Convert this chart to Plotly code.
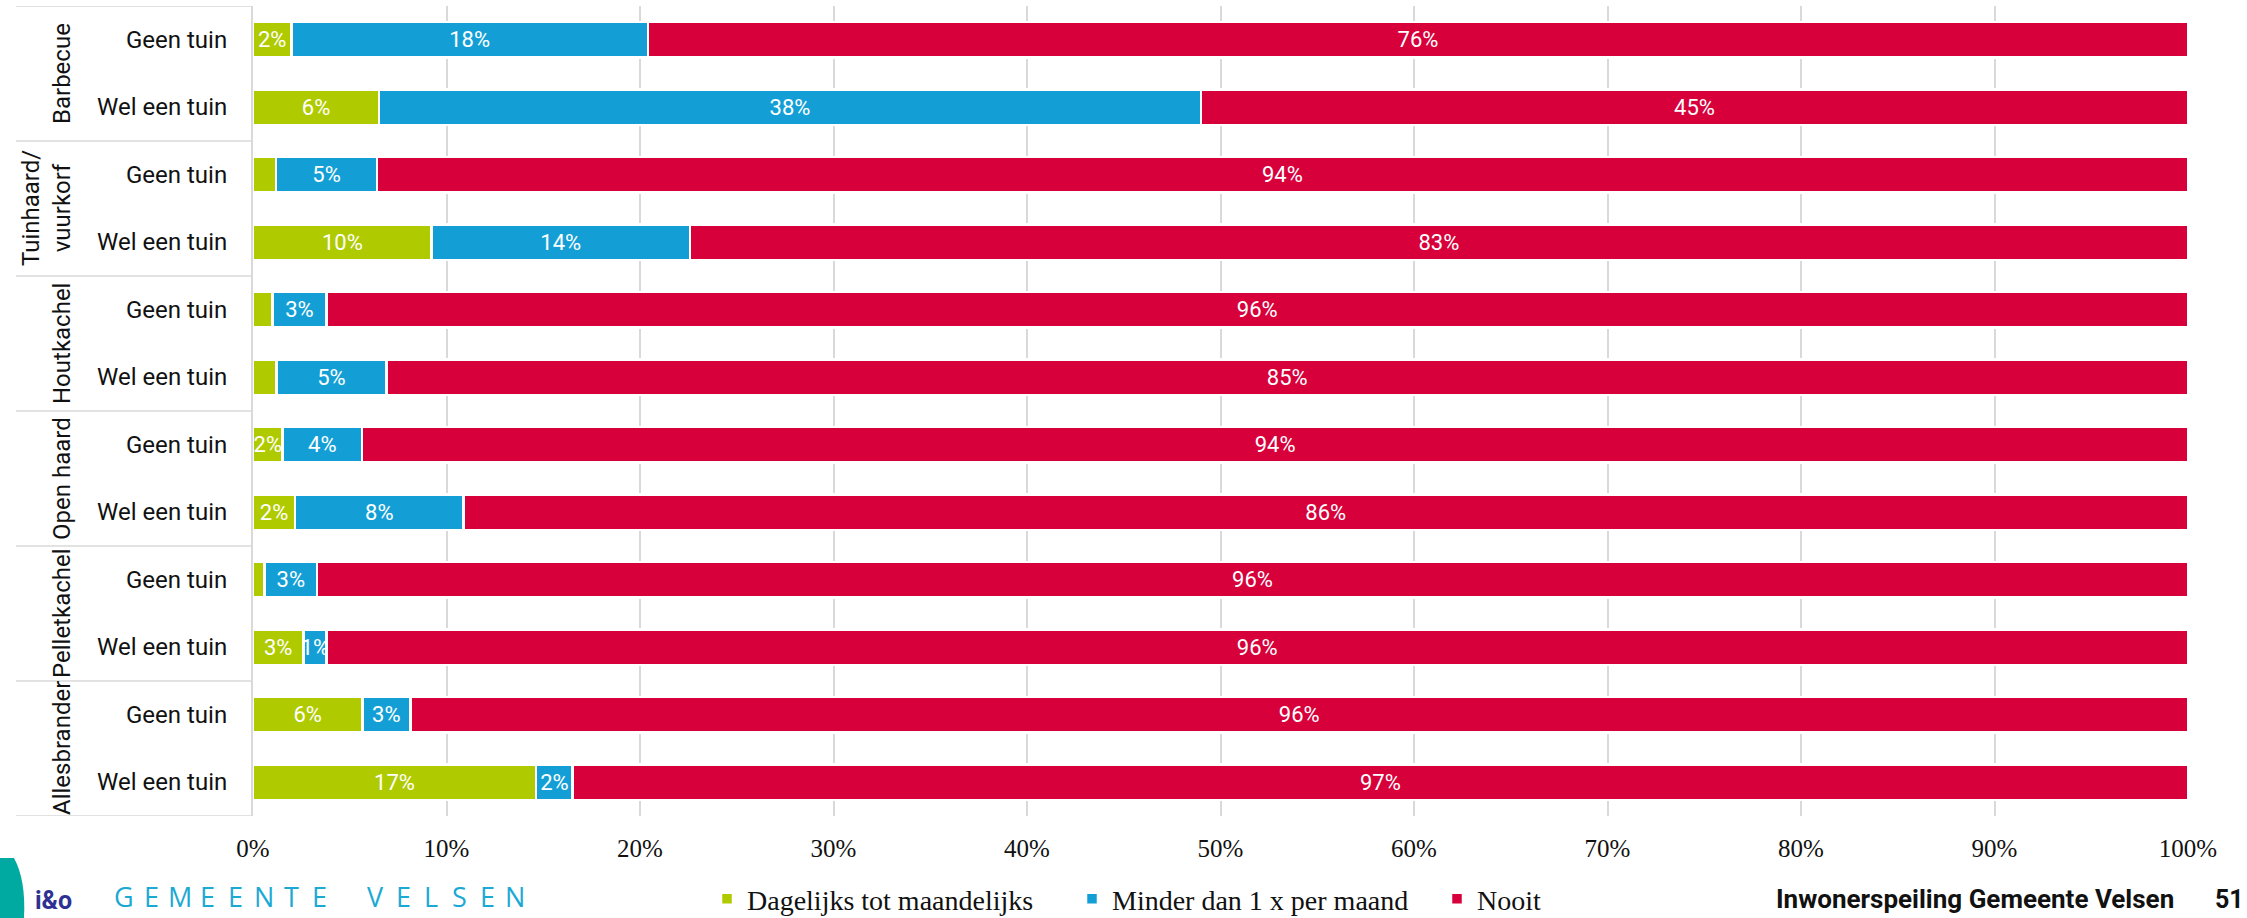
import plotly.graph_objects as go

# ---- data -------------------------------------------------------------
groups = ["Barbecue", "Tuinhaard/<br>vuurkorf", "Houtkachel", "Open haard", "Pelletkachel", "Allesbrander"]
subgroups = ["Geen tuin", "Wel een tuin"]
series_names = ["Dagelijks tot maandelijks", "Minder dan 1 x per maand", "Nooit"]

dagelijks = [1.9, 5.8, 1.2, 9.9, 1.0, 1.1, 1.52, 2.1, 0.6, 2.6, 5.9, 17.0]
minder = [17.7, 37.8, 5.2, 14.3, 2.8, 5.2, 4.1, 8.4, 2.7, 1.2, 2.6, 2.2]
nooit = [76.4, 45.4, 93.6, 83.0, 96.2, 85.0, 94.0, 86.0, 96.4, 96.2, 96.0, 97.0]

x_ticks = [0, 10, 20, 30, 40, 50, 60, 70, 80, 90, 100]
x_tick_labels = ["0%", "10%", "20%", "30%", "40%", "50%", "60%", "70%", "80%", "90%", "100%"]

logo_text = "GEMEENTE VELSEN"

colors = ["#afcb00", "#139fd6", "#d7003b"]

# ---- geometry helpers (pixel -> paper) --------------------------------
W, H = 2247, 918
L, R, T, B = 253, 2188, 6, 816


def px(x):
    return (x - L) / (R - L)


def py(y):
    return (B - y) / (B - T)


rows = list(range(len(groups) * len(subgroups)))
row_labels = [s for g in groups for s in subgroups]

fig = go.Figure()
for name, vals, col, min_lbl in zip(series_names, [dagelijks, minder, nooit], colors, [1.5, 0, 0]):
    fig.add_trace(go.Bar(
        y=rows, x=vals, orientation="h", name=name,
        marker=dict(color=col, line=dict(color="white", width=2.5)),
        text=[f"{v:.0f}%" if v >= min_lbl else "" for v in vals],
        textposition="inside", insidetextanchor="middle", constraintext="none", textangle=0,
        textfont=dict(family="Roboto", size=22, color="white"),
        hoverinfo="skip",
    ))

annotations = []
# row labels
for r, lab in zip(rows, row_labels):
    annotations.append(dict(x=px(229), y=r, xref="paper", yref="y", text=lab, showarrow=False,
                            xanchor="right", yanchor="middle",
                            font=dict(family="Roboto", size=24, color="#111111")))
# group labels
for gi, g in enumerate(groups):
    cx = 46.5 if "<br>" in g else 61.5
    annotations.append(dict(x=px(cx), y=gi * 2 + 0.5, xref="paper", yref="y", text=g, showarrow=False,
                            textangle=-90, xanchor="center", yanchor="middle",
                            font=dict(family="Roboto", size=24, color="#111111")))
# footer
annotations += [
    dict(x=px(2176), y=py(899), xref="paper", yref="paper", text="<b>Inwonerspeiling Gemeente Velsen</b>",
         showarrow=False, xanchor="right", yanchor="middle", font=dict(family="Roboto", size=26, color="#111111")),
    dict(x=px(2213), y=py(899), xref="paper", yref="paper", text="<b>51</b>",
         showarrow=False, xanchor="left", yanchor="middle", font=dict(family="Roboto", size=25, color="#111111")),
    dict(x=px(33), y=py(917), xref="paper", yref="paper", text="<b>i&amp;o</b>",
         showarrow=False, xanchor="left", yanchor="bottom", font=dict(family="Roboto", size=25, color="#2e3192")),
]
# spaced logo lettering
slot = (529 - 110) / len(logo_text)
for i, ch in enumerate(logo_text):
    if ch == " ":
        continue
    annotations.append(dict(x=px(110 + (i + 0.5) * slot), y=py(917), xref="paper", yref="paper", text=ch,
                            showarrow=False, xanchor="center", yanchor="bottom",
                            font=dict(family="Open Sans", size=27, color="#1ba9d4")))

shapes = []
for k in range(len(groups) + 1):
    shapes.append(dict(type="line", xref="paper", yref="y", x0=px(16), x1=0, y0=k * 2 - 0.5, y1=k * 2 - 0.5,
                       line=dict(color="#d9d9d9", width=1.5)))
shapes.append(dict(type="path", xref="paper", yref="paper",
                   path=f"M {px(0)},{py(858)} L {px(14)},{py(858)} Q {px(26)},{py(880)} {px(24)},{py(918)} L {px(0)},{py(918)} Z",
                   fillcolor="#00aaa0", line=dict(width=0)))

fig.update_layout(
    width=W, height=H,
    barmode="stack", barnorm="percent", bargap=0.47,
    margin=dict(l=L, r=W - R, t=T, b=H - B, autoexpand=False),
    plot_bgcolor="white", paper_bgcolor="white",
    xaxis=dict(range=[0, 100], tickvals=x_ticks, ticktext=x_tick_labels, showgrid=True, gridcolor="#d9d9d9",
               gridwidth=2, zeroline=False, showline=False, ticks="outside", ticklen=10,
               tickcolor="rgba(0,0,0,0)",
               tickfont=dict(family="Liberation Serif", size=25, color="#111111")),
    yaxis=dict(range=[11.5, -0.5], showticklabels=False, showgrid=False, zeroline=False,
               showline=True, linecolor="#d9d9d9", linewidth=2),
    legend=dict(orientation="h", x=px(707), xanchor="left", y=py(899), yanchor="middle",
                entrywidth=320, entrywidthmode="pixels",
                font=dict(family="Liberation Serif", size=28, color="#111111"), traceorder="normal"),
    annotations=annotations, shapes=shapes,
)

fig.write_html("out.html", config={"displayModeBar": False},
               post_script="document.body.style.margin='0px';document.body.style.overflow='hidden';")
